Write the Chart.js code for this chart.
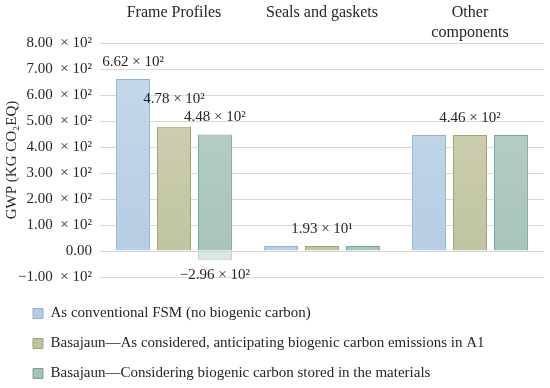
<!DOCTYPE html>
<html>
<head>
<meta charset="utf-8">
<script src="https://cdn.jsdelivr.net/npm/chart.js@4.4.1/dist/chart.umd.min.js"></script>
<style>
  html, body { margin: 0; padding: 0; background: #fff; }
  #wrap { width: 550px; height: 388px; }
</style>
</head>
<body>
<div id="wrap"><canvas id="gwpChart"></canvas></div>
<script>
// valores
const categories = ['Frame Profiles', 'Seals and gaskets', ['Other', 'components']];
const seriesNames = [
  'As conventional FSM (no biogenic carbon)',
  'Basajaun\u2014As considered, anticipating biogenic carbon emissions in A1',
  'Basajaun\u2014Considering biogenic carbon stored in the materials',
];
const conventional = [662, 19.3, 446];
const anticipating = [478, 19.3, 446];
const stored = [448, 19.3, 446];
const storedNegative = [-36, null, null];

const conventionalLabels = ['6.62 \u00d7 10\u00b2', null, null];
const anticipatingLabels = ['4.78 \u00d7 10\u00b2', '1.93 \u00d7 10\u00b9', '4.46 \u00d7 10\u00b2'];
const storedLabels = ['4.48 \u00d7 10\u00b2', null, null];
const storedNegativeLabels = ['\u22122.96 \u00d7 10\u00b2', null, null];

const yTickValues = [-100, 0, 100, 200, 300, 400, 500, 600, 700, 800];
const yTickLabels = [
  '\u22121.00  \u00d7 10\u00b2', '0.00', '1.00  \u00d7 10\u00b2', '2.00  \u00d7 10\u00b2', '3.00  \u00d7 10\u00b2',
  '4.00  \u00d7 10\u00b2', '5.00  \u00d7 10\u00b2', '6.00  \u00d7 10\u00b2', '7.00  \u00d7 10\u00b2', '8.00  \u00d7 10\u00b2',
];

const FONT = '"Liberation Serif", "Times New Roman", serif';
const TEXT = '#262626';

function barFill(top, bottom) {
  return (ctx) => {
    const { chart, type } = ctx;
    if (type !== 'data' || !chart.chartArea) return bottom;
    const area = chart.chartArea;
    const g = chart.ctx.createLinearGradient(0, area.top, 0, area.bottom);
    g.addColorStop(0, top);
    g.addColorStop(1, bottom);
    return g;
  };
}

// deslocamento vertical dos rótulos (o 4.78 fica mais alto na figura)
const labelLift = { '1-0': 28 };

const valueLabels = {
  id: 'valueLabels',
  afterDatasetsDraw(chart) {
    const { ctx } = chart;
    ctx.save();
    ctx.font = '15px ' + FONT;
    ctx.fillStyle = TEXT;
    ctx.textAlign = 'center';
    ctx.textBaseline = 'middle';
    chart.data.datasets.forEach((ds, di) => {
      const meta = chart.getDatasetMeta(di);
      (ds.valueLabels || []).forEach((txt, i) => {
        if (!txt) return;
        const bar = meta.data[i];
        const lift = labelLift[`${di}-${i}`] ?? 17;
        const y = ds.data[i] < 0 ? bar.y + 15 : bar.y - lift;
        ctx.fillText(txt, bar.x, y);
      });
    });
    ctx.restore();
  },
};

const legendNudge = {
  id: 'legendNudge',
  afterLayout(chart) {
    const lg = chart.legend;
    lg.left += 18;
    lg.right += 18;
    lg.top += 14;
    lg.bottom += 14;
  },
};

Chart.defaults.font.family = FONT;
Chart.defaults.color = TEXT;

const ctx = document.getElementById('gwpChart');
new Chart(ctx, {
  type: 'bar',
  data: {
    labels: categories,
    datasets: [
      { label: seriesNames[0], data: conventional, valueLabels: conventionalLabels, stack: 's1',
        backgroundColor: barFill('#c8daeb', '#b4cbe3'), borderColor: '#8fb2d6' },
      { label: seriesNames[1], data: anticipating, valueLabels: anticipatingLabels, stack: 's2',
        backgroundColor: barFill('#d2d4b8', '#bfc29e'), borderColor: '#9ea66e' },
      { label: seriesNames[2], data: stored, valueLabels: storedLabels, stack: 's3',
        backgroundColor: barFill('#bcd3cb', '#a6c2b7'), borderColor: '#70a795' },
      { label: 'negative', data: storedNegative, valueLabels: storedNegativeLabels, stack: 's3',
        backgroundColor: '#dae7e2', borderColor: '#b9d2c9' },
    ],
  },
  options: {
    responsive: true,
    maintainAspectRatio: false,
    animation: false,
    layout: { padding: { left: 0, right: 6, top: 0, bottom: 11 } },
    datasets: {
      bar: { borderWidth: 1, borderSkipped: false, categoryPercentage: 0.83, barPercentage: 0.83 },
    },
    plugins: {
      tooltip: { enabled: false },
      legend: {
        position: 'bottom',
        align: 'start',
        labels: {
          boxWidth: 10,
          boxHeight: 10,
          padding: 15,
          color: TEXT,
          font: { size: 15, family: FONT },
          filter: (item) => item.datasetIndex < 3,
        },
      },
    },
    scales: {
      x: {
        position: 'top',
        grid: { display: false, drawTicks: false },
        border: { display: false },
        ticks: { padding: 1, crossAlign: 'far', font: { size: 16, family: FONT }, color: TEXT },
        afterFit: (s) => { s.height = 43; },
      },
      y: {
        stacked: true,
        min: -100,
        max: 800,
        grid: { color: '#d9d9d9', lineWidth: 1, drawTicks: false },
        border: { display: false },
        ticks: {
          stepSize: 100,
          padding: 8,
          font: { size: 15, family: FONT },
          color: TEXT,
          callback: (v) => yTickLabels[yTickValues.indexOf(v)],
        },
        title: {
          display: true,
          text: 'GWP (KG CO\u2082EQ)',
          font: { size: 15, family: FONT },
          color: TEXT,
          padding: { top: 3, bottom: 0 },
        },
        afterFit: (s) => { s.width = 100; },
      },
    },
  },
  plugins: [valueLabels, legendNudge],
});
</script>
</body>
</html>
